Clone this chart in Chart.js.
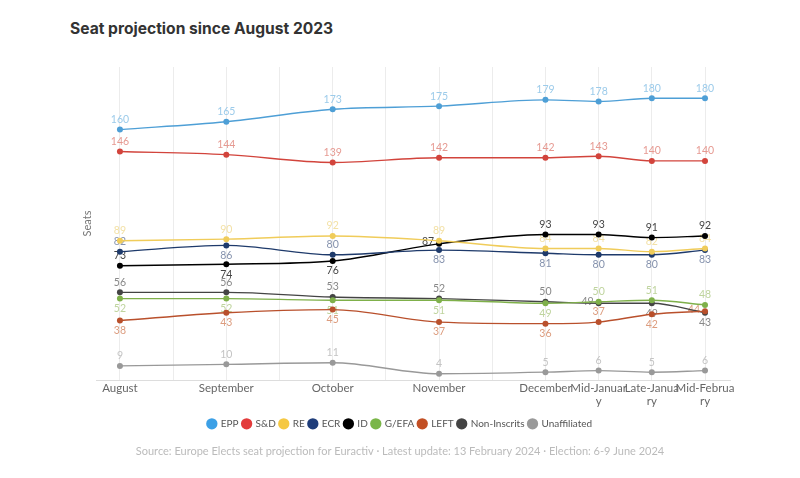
<!DOCTYPE html>
<html>
<head>
<meta charset="utf-8">
<script src="https://cdn.jsdelivr.net/npm/chart.js@4.4.1/dist/chart.umd.min.js"></script>
<style>
  body { margin: 0; background: #fff; }
  #wrap { position: relative; width: 800px; height: 478px; }
  #title { position: absolute; left: 70px; top: 19px; font: 700 15.6px Inter, sans-serif; color: #333; }
  canvas { position: absolute; left: 0; top: 0; }
</style>
</head>
<body>
<div id="wrap">
  <div id="title">Seat projection since August 2023</div>
  <canvas id="seatChart" width="800" height="478"></canvas>
</div>
<script>
// x positions: months are 1 unit apart, the January/February updates half a unit
const months = ['August', 'September', 'October', 'November', 'December', 'Mid-January', 'Late-January', 'Mid-February'];
const monthPos = [0, 1, 2, 3, 4, 4.5, 5, 5.5];

const epp = [160, 165, 173, 175, 179, 178, 180, 180];
const sd = [146, 144, 139, 142, 142, 143, 140, 140];
const re = [89, 90, 92, 89, 84, 84, 82, 84];
const ecr = [82, 86, 80, 83, 81, 80, 80, 83];
const id = [73, 74, 76, 87, 93, 93, 91, 92];
const greens = [52, 52, 51, 51, 49, 50, 51, 48];
const left = [38, 43, 45, 37, 36, 37, 42, 44];
const nonInscrits = [56, 56, 53, 52, 50, 49, 49, 43];
const unaffiliated = [9, 10, 11, 4, 5, 6, 5, 6];

// where each value label sits: t = above, b = below, l = left of the point
const labelSides = {
  'EPP': 'tttttttt',
  'S&D': 'tttttttt',
  'RE': 'tttttttt',
  'ECR': 'tbtbbbbb',
  'ID': 'tbbltttt',
  'G/EFA': 'bbbbbttt',
  'LEFT': 'bbbbbtbl',
  'Non-Inscrits': 'tttttlbb',
  'Unaffiliated': 'tttttttt'
};

function series(name, values, color, labelColor) {
  return {
    label: name,
    data: values.map((v, i) => ({ x: monthPos[i], y: v })),
    borderColor: color,
    backgroundColor: color,
    pointBackgroundColor: color,
    pointBorderColor: color,
    borderWidth: 1.4,
    pointRadius: 3,
    pointBorderWidth: 0,
    cubicInterpolationMode: 'monotone',
    labelColor: labelColor
  };
}

const datasets = [
  series('EPP', epp, '#4e9fd6', '#9ccbea'),
  series('S&D', sd, '#d2443c', '#e69a92'),
  series('RE', re, '#f0cc5a', '#f3e1a6'),
  series('ECR', ecr, '#1e3a6b', '#8592ad'),
  series('ID', id, '#000000', '#444444'),
  series('G/EFA', greens, '#7fb04a', '#bfd49e'),
  series('LEFT', left, '#b9502c', '#dc9c7e'),
  series('Non-Inscrits', nonInscrits, '#444444', '#888888'),
  series('Unaffiliated', unaffiliated, '#999999', '#c4c4c4')
];

const legendColors = ['#3ca0e6', '#e33b3b', '#f5c842', '#1f3d7a', '#000000', '#7ab648', '#c24f24', '#444444', '#999999'];

// small inline value-label plugin, drawn under the lines like the source
const pointLabels = {
  id: 'pointLabels',
  beforeDatasetsDraw(chart) {
    const ctx = chart.ctx;
    ctx.save();
    ctx.font = '10.5px Lato';
    ctx.textBaseline = 'middle';
    chart.data.datasets.forEach((ds, i) => {
      const meta = chart.getDatasetMeta(i);
      const sides = labelSides[ds.label];
      ctx.fillStyle = ds.labelColor;
      meta.data.forEach((pt, j) => {
        const side = sides[j];
        const value = ds.data[j].y;
        if (side === 'l') {
          ctx.textAlign = 'right';
          ctx.fillText(value, pt.x - 5, pt.y - 2);
        } else {
          ctx.textAlign = 'center';
          ctx.fillText(value, pt.x, side === 't' ? pt.y - 10 : pt.y + 10);
        }
      });
    });
    ctx.restore();
  }
};

Chart.defaults.font.family = 'Lato';

const ctx = document.getElementById('seatChart').getContext('2d');
new Chart(ctx, {
  type: 'line',
  data: { datasets: datasets },
  plugins: [pointLabels],
  options: {
    responsive: false,
    animation: false,
    layout: { padding: { top: 67, bottom: 0, left: 0, right: 0 } },
    scales: {
      x: {
        type: 'linear',
        min: -0.225,
        max: 5.735,
        afterBuildTicks: (scale) => {
          const ticks = [];
          for (let v = 0; v <= 5.5; v += 0.5) ticks.push({ value: v });
          scale.ticks = ticks;
        },
        grid: { color: '#ececec', drawTicks: false },
        border: { color: '#dddddd' },
        ticks: {
          padding: 1,
          color: '#666',
          font: { size: 11.5 },
          maxRotation: 0,
          autoSkip: false,
          callback: function (value) {
            const idx = monthPos.indexOf(value);
            if (idx < 0) return '';
            const name = months[idx];
            // the source wraps long names after 10 characters
            return name.length > 10 ? [name.slice(0, 10), name.slice(10)] : name;
          }
        }
      },
      y: {
        min: 0,
        max: 200,
        afterFit: (scale) => { scale.width = 96; },
        grid: { display: false },
        border: { display: false },
        ticks: { display: false },
        title: {
          display: true,
          text: 'Seats',
          color: '#777',
          font: { size: 11 },
          padding: { top: 81, bottom: 0 }
        }
      },
      yPad: {
        position: 'right',
        afterFit: (scale) => { scale.width = 70; },
        grid: { display: false },
        border: { display: false },
        ticks: { display: false }
      }
    },
    plugins: {
      legend: {
        position: 'bottom',
        // empty title only used as a spacer above the items
        title: { display: true, text: '', font: { size: 1 }, padding: { top: 0, bottom: 4 } },
        labels: {
          usePointStyle: true,
          pointStyle: 'circle',
          boxWidth: 8,
          boxHeight: 8,
          padding: 4,
          color: '#555',
          font: { size: 10 },
          generateLabels: (chart) => chart.data.datasets.map((ds, i) => ({
            text: ds.label,
            fillStyle: legendColors[i],
            strokeStyle: legendColors[i],
            lineWidth: 0,
            pointStyle: 'circle',
            datasetIndex: i,
            fontColor: '#555'
          }))
        }
      },
      subtitle: {
        display: true,
        position: 'bottom',
        text: 'Source: Europe Elects seat projection for Euractiv · Latest update: 13 February 2024 · Election: 6-9 June 2024',
        color: '#bbb',
        font: { size: 11 },
        padding: { top: 6, bottom: 20 }
      },
      tooltip: { enabled: false }
    }
  }
});
</script>
</body>
</html>
